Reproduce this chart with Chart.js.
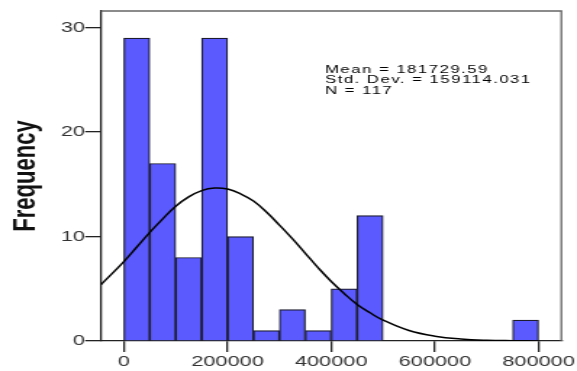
<!DOCTYPE html>
<html>
<head>
<meta charset="utf-8">
<script src="https://cdn.jsdelivr.net/npm/chart.js@4.4.0/dist/chart.umd.min.js"></script>
<style>
  html, body { margin: 0; padding: 0; background: #fff; overflow: hidden; }
  /* the chart is laid out narrow and then widened, like the old SPSS export */
  #wrap { width: 398px; height: 371px; transform: scale(1.4497, 1); transform-origin: 0 0; }
</style>
</head>
<body>
<div id="wrap"><canvas id="histChart"></canvas></div>
<script>
// histogram bins (lower edges) and counts
const binStarts = [0, 50000, 100000, 150000, 200000, 250000, 300000, 350000,
                   400000, 450000, 500000, 550000, 600000, 650000, 700000, 750000];
const binWidth = 50000;
const frequencies = [29, 17, 8, 29, 10, 1, 3, 1, 5, 12, 0, 0, 0, 0, 0, 2];

// fitted normal curve, read along the x axis
const curveX = [-44000, 0, 25000, 50000, 75000, 100000, 125000, 150000, 175000, 200000,
                225000, 250000, 275000, 300000, 325000, 350000, 375000, 400000, 425000,
                450000, 475000, 500000, 550000, 600000, 650000, 700000, 750000, 800000];
const curveY = [5.4, 7.6, 9.0, 10.4, 11.7, 12.9, 13.8, 14.4, 14.65, 14.55,
                14.1, 13.4, 12.35, 11.1, 9.8, 8.4, 7.0, 5.7, 4.55,
                3.5, 2.7, 2.0, 1.0, 0.46, 0.19, 0.07, 0.03, 0.01];

const xTicks = [0, 200000, 400000, 600000, 800000];
const yTicks = [0, 10, 20, 30];
const statLines = ['Mean = 181729.59', 'Std. Dev. = 159114.031', 'N = 117'];

const barPoints = binStarts.map((s, i) => ({ x: s + binWidth / 2, y: frequencies[i] }));
const curvePoints = curveX.map((x, i) => ({ x: x, y: curveY[i] }));

// top/right frame and the summary text
const frameAndStats = {
    id: 'frameAndStats',
    afterDraw(chart) {
        const { ctx, chartArea: a } = chart;
        ctx.save();
        ctx.strokeStyle = '#666';
        ctx.lineWidth = 1.3;
        ctx.beginPath();
        ctx.moveTo(a.left, a.top);
        ctx.lineTo(a.right, a.top);
        ctx.lineTo(a.right, a.bottom);
        ctx.stroke();

        ctx.fillStyle = '#000';
        ctx.font = '11.5px "Liberation Sans"';
        ctx.letterSpacing = '1.05px';
        ctx.textBaseline = 'alphabetic';
        statLines.forEach((t, i) => ctx.fillText(t, a.left + 154.5, a.top + 61.5 + i * 10.5));
        ctx.restore();
    }
};

const tickFont = { family: '"Liberation Sans", Arial, sans-serif', size: 15 };

new Chart(document.getElementById('histChart'), {
    type: 'bar',
    data: {
        datasets: [{
            type: 'line',
            data: curvePoints,
            borderColor: '#000',
            borderWidth: 1.5,
            pointRadius: 0,
            tension: 0.4,
            fill: false
        }, {
            type: 'bar',
            data: barPoints,
            backgroundColor: '#5a5aff',
            borderColor: '#1c1c2e',
            borderWidth: 1.2,
            barPercentage: 1,
            categoryPercentage: 1
        }]
    },
    options: {
        responsive: true,
        maintainAspectRatio: false,
        animation: false,
        layout: { padding: { top: 11, right: 9.6, left: 0, bottom: 0 } },
        plugins: { legend: { display: false }, tooltip: { enabled: false } },
        scales: {
            x: {
                type: 'linear',
                min: -44000,
                max: 844000,
                offset: false,
                afterBuildTicks: s => { s.ticks = xTicks.map(v => ({ value: v })); },
                afterFit: s => { s.height = 30; },
                ticks: { color: '#333', font: tickFont, padding: 1, maxRotation: 0, callback: v => String(v) },
                grid: { offset: false, drawOnChartArea: false, tickLength: 11, color: '#222', lineWidth: 1.3 },
                border: { color: '#222', width: 1.3 }
            },
            y: {
                min: 0,
                max: 31.6,
                afterBuildTicks: s => { s.ticks = yTicks.map(v => ({ value: v })); },
                afterFit: s => { s.width = 69.7; },
                ticks: { color: '#333', font: tickFont, padding: 0 },
                grid: { offset: false, drawOnChartArea: false, tickLength: 11, color: '#222', lineWidth: 1.3 },
                border: { color: '#222', width: 1.3 },
                title: {
                    display: true,
                    text: 'Frequency',
                    color: '#111',
                    font: { family: '"Liberation Sans", Arial, sans-serif', size: 22, weight: 'bold' },
                    padding: { top: 5 }
                }
            }
        }
    },
    plugins: [frameAndStats]
});
</script>
</body>
</html>
